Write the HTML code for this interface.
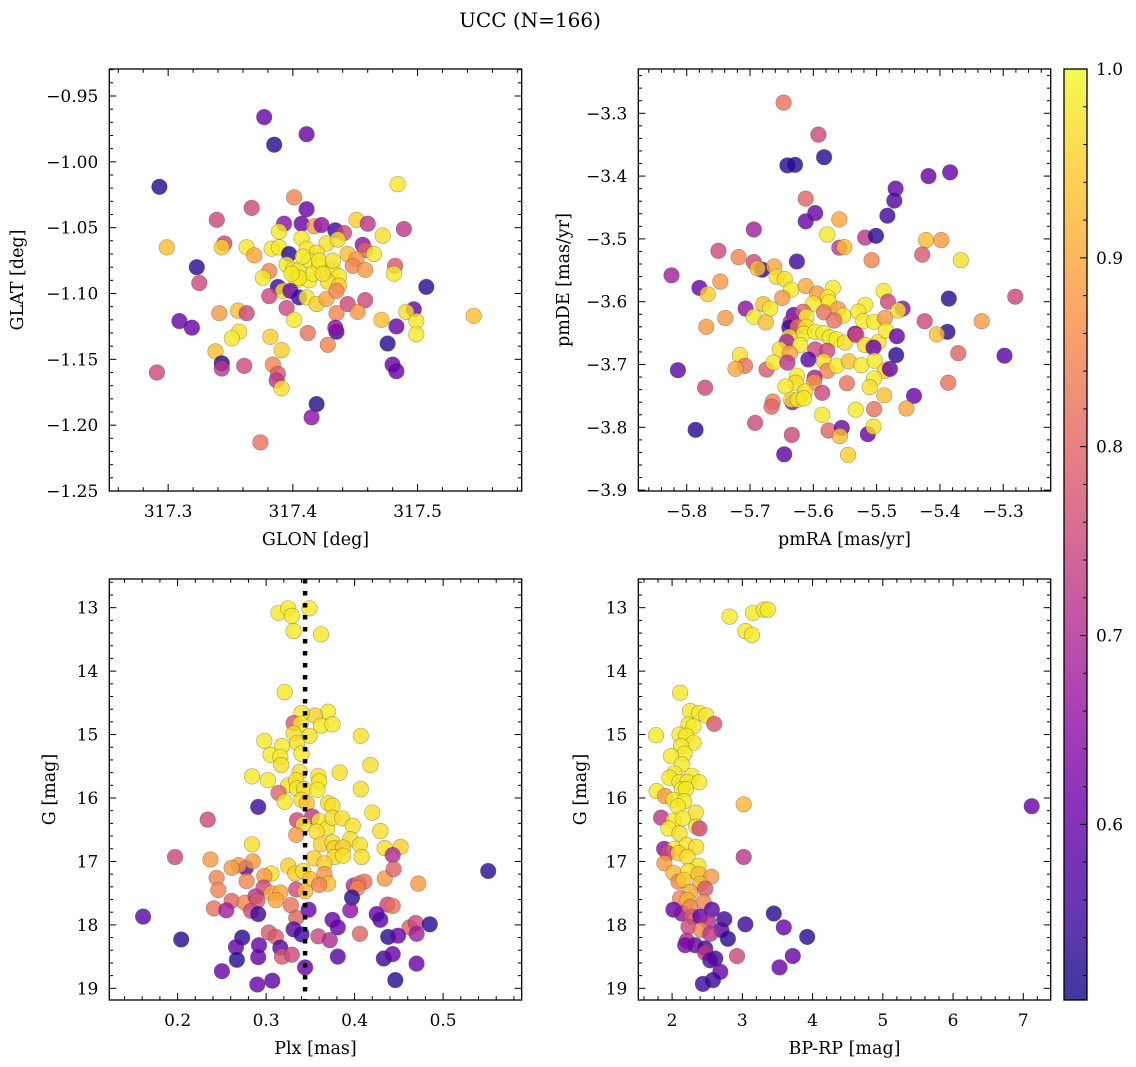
<!DOCTYPE html>
<html><head><meta charset="utf-8"><title>UCC (N=166)</title>
<style>
html,body{margin:0;padding:0;background:#fff;}
svg{display:block;font-family:"DejaVu Serif","Liberation Serif",serif;}
</style></head>
<body>
<svg id="fig" width="1136" height="1067" viewBox="0 0 1136 1067" xmlns="http://www.w3.org/2000/svg">
<text x="530" y="27" font-size="20" text-anchor="middle">UCC (N=166)</text>
</svg>
<script>
// ---- Panel 1: GLON vs GLAT ----
const glon1 = [317.377,317.411,317.385,317.293,317.484,317.401,317.367,317.411,317.339,317.393,317.407,317.417,317.423,317.434,317.451,317.460,317.489,317.472,317.441,317.389,317.407,317.427,317.436,317.345,317.343,317.299,317.363,317.383,317.389,317.397,317.369,317.411,317.419,317.456,317.458,317.465,317.444,317.451,317.323,317.325,317.381,317.376,317.395,317.400,317.405,317.413,317.421,317.432,317.437,317.448,317.458,317.482,317.481,317.403,317.413,317.428,317.437,317.388,317.392,317.398,317.405,317.411,317.419,317.427,317.435,317.381,317.395,317.444,317.458,317.507,317.341,317.356,317.363,317.401,317.435,317.452,317.497,317.491,317.499,317.545,317.471,317.309,317.319,317.357,317.351,317.382,317.412,317.435,317.434,317.483,317.499,317.428,317.476,317.338,317.391,317.343,317.343,317.361,317.384,317.388,317.387,317.391,317.291,317.480,317.483,317.419,317.415,317.374,317.408,317.416,317.421,317.405,317.424,317.432,317.399];
const glat1 = [-0.966,-0.979,-0.987,-1.019,-1.017,-1.027,-1.035,-1.036,-1.044,-1.047,-1.047,-1.049,-1.048,-1.052,-1.044,-1.047,-1.051,-1.056,-1.054,-1.053,-1.058,-1.062,-1.059,-1.062,-1.065,-1.065,-1.065,-1.066,-1.065,-1.070,-1.071,-1.066,-1.069,-1.063,-1.067,-1.070,-1.070,-1.074,-1.080,-1.092,-1.083,-1.088,-1.078,-1.082,-1.082,-1.075,-1.079,-1.082,-1.087,-1.079,-1.082,-1.079,-1.085,-1.090,-1.090,-1.091,-1.094,-1.095,-1.098,-1.098,-1.103,-1.103,-1.108,-1.104,-1.098,-1.102,-1.111,-1.108,-1.105,-1.095,-1.115,-1.113,-1.115,-1.120,-1.115,-1.114,-1.112,-1.114,-1.121,-1.117,-1.120,-1.121,-1.126,-1.129,-1.134,-1.133,-1.130,-1.129,-1.126,-1.125,-1.131,-1.139,-1.138,-1.144,-1.143,-1.153,-1.157,-1.155,-1.154,-1.161,-1.166,-1.172,-1.160,-1.154,-1.159,-1.184,-1.194,-1.213,-1.072,-1.085,-1.075,-1.088,-1.085,-1.075,-1.085];
const prob1 = [0.6,0.6,0.53,0.53,0.98,0.85,0.75,0.6,0.75,0.65,0.6,0.88,0.65,0.55,0.95,0.72,0.72,0.97,0.75,0.98,0.98,0.97,0.97,0.75,0.95,0.93,0.98,0.98,0.98,0.53,0.9,0.98,0.97,0.65,0.8,0.98,0.93,0.88,0.53,0.75,0.85,0.98,0.98,0.98,0.98,0.98,0.98,0.98,0.98,0.85,0.88,0.78,0.98,0.98,0.98,0.97,0.95,0.55,0.97,0.6,0.55,0.98,0.95,0.9,0.85,0.75,0.75,0.75,0.75,0.53,0.88,0.93,0.75,0.98,0.85,0.88,0.6,0.97,0.98,0.93,0.93,0.6,0.6,0.97,0.98,0.95,0.82,0.55,0.65,0.6,0.98,0.85,0.53,0.93,0.95,0.53,0.72,0.75,0.85,0.78,0.72,0.97,0.75,0.6,0.6,0.53,0.65,0.82,0.98,0.98,0.98,0.98,0.97,0.97,0.98];

// ---- Panel 2: pmRA vs pmDE ----
const pmra2 = [-5.647,-5.592,-5.583,-5.641,-5.629,-5.418,-5.384,-5.470,-5.472,-5.612,-5.597,-5.612,-5.483,-5.559,-5.578,-5.694,-5.518,-5.501,-5.422,-5.398,-5.559,-5.551,-5.428,-5.367,-5.508,-5.750,-5.718,-5.626,-5.694,-5.681,-5.688,-5.662,-5.824,-5.780,-5.767,-5.747,-5.658,-5.645,-5.635,-5.649,-5.612,-5.594,-5.569,-5.577,-5.575,-5.600,-5.489,-5.482,-5.518,-5.529,-5.459,-5.466,-5.386,-5.281,-5.769,-5.739,-5.707,-5.679,-5.668,-5.694,-5.675,-5.631,-5.616,-5.611,-5.583,-5.561,-5.553,-5.567,-5.521,-5.504,-5.487,-5.424,-5.334,-5.636,-5.638,-5.625,-5.611,-5.615,-5.597,-5.584,-5.574,-5.563,-5.550,-5.534,-5.532,-5.518,-5.497,-5.485,-5.468,-5.388,-5.405,-5.638,-5.642,-5.621,-5.653,-5.637,-5.597,-5.578,-5.505,-5.469,-5.371,-5.298,-5.716,-5.708,-5.723,-5.674,-5.663,-5.641,-5.608,-5.583,-5.578,-5.563,-5.544,-5.524,-5.503,-5.487,-5.479,-5.814,-5.626,-5.598,-5.599,-5.628,-5.644,-5.547,-5.504,-5.511,-5.387,-5.771,-5.586,-5.613,-5.633,-5.635,-5.624,-5.615,-5.664,-5.666,-5.488,-5.441,-5.533,-5.504,-5.453,-5.586,-5.692,-5.786,-5.634,-5.576,-5.555,-5.558,-5.514,-5.505,-5.646,-5.545];
const pmde2 = [-3.283,-3.334,-3.370,-3.383,-3.382,-3.400,-3.394,-3.420,-3.439,-3.436,-3.459,-3.472,-3.463,-3.469,-3.493,-3.485,-3.498,-3.495,-3.502,-3.502,-3.514,-3.513,-3.525,-3.534,-3.534,-3.519,-3.529,-3.536,-3.537,-3.549,-3.547,-3.544,-3.558,-3.578,-3.588,-3.568,-3.560,-3.564,-3.581,-3.594,-3.575,-3.587,-3.578,-3.593,-3.601,-3.603,-3.583,-3.600,-3.605,-3.616,-3.611,-3.614,-3.595,-3.592,-3.640,-3.626,-3.611,-3.604,-3.611,-3.624,-3.633,-3.621,-3.616,-3.624,-3.617,-3.612,-3.622,-3.630,-3.631,-3.632,-3.626,-3.631,-3.631,-3.633,-3.641,-3.640,-3.640,-3.651,-3.648,-3.650,-3.657,-3.660,-3.665,-3.651,-3.653,-3.669,-3.664,-3.646,-3.655,-3.648,-3.652,-3.656,-3.664,-3.669,-3.676,-3.682,-3.676,-3.678,-3.673,-3.685,-3.682,-3.686,-3.685,-3.702,-3.707,-3.708,-3.697,-3.697,-3.692,-3.695,-3.710,-3.702,-3.695,-3.701,-3.694,-3.710,-3.707,-3.709,-3.718,-3.721,-3.728,-3.729,-3.735,-3.730,-3.722,-3.736,-3.729,-3.737,-3.745,-3.743,-3.760,-3.756,-3.756,-3.754,-3.759,-3.767,-3.749,-3.750,-3.772,-3.771,-3.770,-3.780,-3.793,-3.804,-3.812,-3.805,-3.801,-3.814,-3.811,-3.799,-3.843,-3.844];
const prob2 = [0.82,0.75,0.53,0.53,0.53,0.6,0.6,0.6,0.57,0.8,0.6,0.6,0.55,0.9,0.98,0.68,0.72,0.53,0.93,0.88,0.72,0.93,0.78,0.97,0.85,0.75,0.85,0.55,0.75,0.53,0.93,0.9,0.68,0.6,0.95,0.88,0.97,0.97,0.98,0.88,0.9,0.88,0.98,0.98,0.98,0.98,0.98,0.75,0.98,0.98,0.65,0.97,0.53,0.75,0.88,0.88,0.65,0.93,0.98,0.98,0.93,0.6,0.8,0.98,0.82,0.88,0.98,0.82,0.98,0.98,0.88,0.75,0.88,0.7,0.55,0.82,0.97,0.98,0.98,0.98,0.98,0.98,0.97,0.65,0.75,0.97,0.97,0.98,0.6,0.53,0.93,0.97,0.68,0.98,0.97,0.9,0.75,0.75,0.6,0.53,0.8,0.58,0.97,0.82,0.9,0.78,0.98,0.72,0.58,0.97,0.85,0.98,0.93,0.98,0.98,0.95,0.6,0.58,0.98,0.68,0.88,0.97,0.98,0.82,0.98,0.97,0.82,0.75,0.75,0.97,0.65,0.97,0.98,0.98,0.85,0.8,0.93,0.6,0.98,0.82,0.9,0.98,0.75,0.53,0.75,0.8,0.6,0.93,0.6,0.97,0.58,0.95];

// ---- Panel 3: Plx vs G ----
const plx3 = [0.314,0.325,0.329,0.349,0.331,0.362,0.321,0.370,0.355,0.340,0.362,0.375,0.331,0.339,0.349,0.331,0.335,0.340,0.298,0.318,0.407,0.305,0.316,0.317,0.418,0.338,0.383,0.284,0.302,0.359,0.360,0.325,0.334,0.335,0.343,0.358,0.314,0.321,0.340,0.346,0.407,0.291,0.370,0.375,0.420,0.234,0.352,0.360,0.335,0.342,0.369,0.375,0.386,0.398,0.357,0.334,0.284,0.362,0.375,0.395,0.406,0.429,0.377,0.387,0.377,0.387,0.434,0.452,0.408,0.197,0.237,0.354,0.366,0.443,0.325,0.333,0.342,0.350,0.366,0.370,0.360,0.306,0.298,0.277,0.285,0.269,0.261,0.244,0.278,0.434,0.444,0.472,0.551,0.246,0.297,0.306,0.316,0.311,0.334,0.344,0.399,0.405,0.411,0.403,0.261,0.276,0.288,0.290,0.283,0.328,0.334,0.241,0.255,0.291,0.348,0.397,0.395,0.437,0.443,0.161,0.375,0.381,0.425,0.429,0.462,0.469,0.470,0.485,0.406,0.204,0.273,0.303,0.311,0.331,0.340,0.359,0.372,0.438,0.449,0.266,0.292,0.316,0.318,0.329,0.267,0.291,0.381,0.344,0.433,0.443,0.470,0.250,0.290,0.307,0.446];
const gmag3 = [13.08,13.01,13.13,13.01,13.37,13.42,14.33,14.64,14.70,14.66,14.86,14.84,14.82,14.83,15.02,14.98,15.13,15.30,15.10,15.18,15.02,15.32,15.35,15.48,15.48,15.59,15.60,15.66,15.72,15.65,15.74,15.80,15.72,15.85,15.86,15.87,15.92,16.06,16.03,16.08,15.86,16.14,16.08,16.12,16.23,16.34,16.29,16.36,16.35,16.42,16.48,16.31,16.32,16.44,16.53,16.58,16.73,16.73,16.70,16.65,16.74,16.52,16.79,16.78,16.93,16.91,16.79,16.77,16.93,16.93,16.97,16.95,17.03,16.90,17.07,17.19,17.15,17.28,17.20,17.35,17.37,17.19,17.23,17.10,17.00,17.06,17.10,17.26,17.31,17.27,17.12,17.35,17.15,17.45,17.41,17.50,17.49,17.61,17.44,17.47,17.38,17.35,17.32,17.42,17.62,17.65,17.55,17.62,17.78,17.69,17.89,17.74,17.77,17.83,17.76,17.57,17.77,17.68,17.70,17.87,17.92,18.04,17.83,17.92,18.04,17.97,18.14,17.99,18.14,18.23,18.20,18.12,18.19,18.07,18.15,18.18,18.24,18.19,18.17,18.35,18.32,18.36,18.50,18.47,18.55,18.51,18.50,18.67,18.53,18.46,18.61,18.73,18.94,18.88,18.87];
const prob3 = [0.98,0.98,0.98,0.98,0.98,0.98,0.98,0.98,0.95,0.98,0.98,0.98,0.78,0.98,0.97,0.97,0.97,0.98,0.98,0.98,0.97,0.98,0.98,0.97,0.97,0.97,0.97,0.98,0.98,0.97,0.98,0.97,0.97,0.98,0.97,0.98,0.8,0.98,0.97,0.93,0.97,0.55,0.97,0.97,0.97,0.75,0.72,0.98,0.75,0.97,0.97,0.97,0.97,0.97,0.97,0.88,0.97,0.95,0.97,0.97,0.97,0.97,0.95,0.95,0.97,0.97,0.97,0.95,0.97,0.75,0.88,0.95,0.95,0.7,0.95,0.95,0.97,0.93,0.88,0.93,0.85,0.97,0.88,0.58,0.88,0.88,0.88,0.85,0.85,0.88,0.8,0.88,0.53,0.85,0.75,0.9,0.9,0.9,0.75,0.92,0.7,0.82,0.82,0.85,0.8,0.85,0.72,0.78,0.75,0.82,0.8,0.82,0.68,0.55,0.6,0.53,0.65,0.75,0.82,0.58,0.6,0.6,0.6,0.58,0.8,0.75,0.68,0.53,0.8,0.53,0.53,0.78,0.78,0.58,0.55,0.75,0.7,0.53,0.6,0.6,0.6,0.58,0.78,0.75,0.53,0.6,0.58,0.6,0.55,0.6,0.6,0.6,0.6,0.58,0.53];
const plxLine = [0.344];

// ---- Panel 4: BP-RP vs G ----
const bprp4 = [2.819,3.152,3.305,3.362,3.043,3.138,2.114,2.257,2.386,2.486,2.600,2.233,2.305,1.771,2.105,2.200,2.305,2.129,2.176,1.986,2.138,2.033,1.962,2.281,2.105,2.219,2.386,2.138,2.200,1.781,1.900,2.019,2.171,2.081,3.019,2.338,1.843,2.019,2.152,1.948,2.105,2.343,2.390,1.886,2.029,2.210,2.343,1.933,2.090,2.219,1.890,3.019,2.376,2.019,2.233,2.376,2.557,2.090,2.162,2.400,2.471,2.257,2.114,2.219,2.448,2.019,2.138,2.257,2.567,2.281,2.400,2.743,3.043,3.448,2.519,2.233,2.700,2.414,2.543,3.590,3.924,2.795,2.210,2.329,2.186,2.471,2.471,2.614,2.924,3.719,2.543,2.686,3.529,2.581,2.438,7.12];
const gmag4 = [13.14,13.08,13.03,13.03,13.37,13.43,14.34,14.63,14.66,14.70,14.83,14.84,14.87,15.01,15.00,15.02,15.13,15.18,15.30,15.34,15.47,15.61,15.68,15.65,15.75,15.75,15.75,15.86,15.86,15.89,15.97,16.03,16.05,16.13,16.10,16.23,16.31,16.36,16.32,16.48,16.56,16.45,16.48,16.80,16.80,16.74,16.77,16.87,16.87,16.93,17.03,16.93,17.07,17.18,17.15,17.20,17.24,17.32,17.29,17.35,17.43,17.48,17.58,17.61,17.64,17.76,17.82,17.72,17.76,17.87,17.87,17.91,17.99,17.82,17.95,18.03,18.08,18.08,18.14,18.04,18.19,18.22,18.25,18.32,18.32,18.37,18.44,18.53,18.49,18.49,18.56,18.74,18.67,18.87,18.93,16.13];
const prob4 = [0.98,0.98,0.98,0.98,0.98,0.98,0.98,0.98,0.98,0.98,0.78,0.98,0.98,0.98,0.98,0.98,0.98,0.98,0.98,0.98,0.98,0.98,0.98,0.98,0.98,0.98,0.98,0.98,0.98,0.98,0.88,0.98,0.98,0.98,0.92,0.97,0.72,0.98,0.98,0.98,0.97,0.97,0.75,0.65,0.98,0.97,0.97,0.75,0.95,0.97,0.88,0.72,0.97,0.92,0.97,0.93,0.88,0.85,0.95,0.92,0.78,0.9,0.85,0.92,0.85,0.6,0.65,0.85,0.58,0.78,0.6,0.55,0.55,0.53,0.7,0.75,0.58,0.85,0.72,0.6,0.53,0.53,0.7,0.6,0.62,0.55,0.72,0.55,0.75,0.6,0.58,0.6,0.6,0.55,0.55,0.6];

// ---- Ticks ----
const ticksGlon = [317.3,317.4,317.5];
const ticksGlat = [-0.95,-1.00,-1.05,-1.10,-1.15,-1.20,-1.25];
const ticksPmra = [-5.8,-5.7,-5.6,-5.5,-5.4,-5.3];
const ticksPmde = [-3.3,-3.4,-3.5,-3.6,-3.7,-3.8,-3.9];
const ticksPlx = [0.2,0.3,0.4,0.5];
const ticksG = [13,14,15,16,17,18,19];
const ticksBprp = [2,3,4,5,6,7];
const ticksCbar = [0.6,0.7,0.8,0.9,1.0];
const cbarRange = [0.507,1.0];

const NS = "http://www.w3.org/2000/svg";
const svg = document.getElementById('fig');
const TICKFS = 17, LABFS = 17.5;
function mk(tag, attrs, parent){
  const e = document.createElementNS(NS, tag);
  for (const k in attrs) e.setAttribute(k, attrs[k]);
  (parent||svg).appendChild(e);
  return e;
}
const plasma = [[13,8,135],[65,4,157],[106,0,168],[143,13,164],[177,42,144],[204,71,120],[225,100,98],[242,132,75],[252,166,54],[252,206,37],[240,249,33]];
function cmap(v){
  let t = (v - cbarRange[0])/(cbarRange[1]-cbarRange[0]);
  t = Math.max(0, Math.min(1, t));
  const f = t*10, i = Math.min(9, Math.floor(f)), r = f - i;
  const a = plasma[i], b = plasma[i+1];
  return 'rgb(' + [0,1,2].map(k => Math.round(a[k] + (b[k]-a[k])*r)).join(',') + ')';
}
function fmt(v, d){ const s = Math.abs(v).toFixed(d); return (v < 0 ? '\u2212' : '') + s; }

function panel(cfg){
  const g = mk('g', {});
  
  
  const L = cfg.box[0], R = cfg.box[1], T = cfg.box[2], B = cfg.box[3];
  const sx = v => L + (v - cfg.xd[0])/(cfg.xd[1]-cfg.xd[0])*(R-L);
  const sy = v => T + (v - cfg.yd[0])/(cfg.yd[1]-cfg.yd[0])*(B-T);
  const pts = mk('g', {}, g);
  
  
  for (let i = 0; i < cfg.xs.length; i++){
    const c = mk('circle', {cx: sx(cfg.xs[i]).toFixed(1), cy: sy(cfg.ys[i]).toFixed(1), r: 7.8, fill: cmap(cfg.ps[i]), 'fill-opacity': 0.8, stroke: 'rgba(60,60,60,0.45)', 'stroke-width': 0.6}, pts);
    
    
  }
  if (cfg.vline){
    const ln = mk('line', {x1: sx(cfg.vline[0]), x2: sx(cfg.vline[0]), y1: T, y2: B, stroke: '#000', 'stroke-width': 4.5, 'stroke-dasharray': '4.5,7.5'}, g);
    
    
  }
  const fr = mk('rect', {x: L, y: T, width: R-L, height: B-T, fill: 'none', stroke: '#000', 'stroke-width': 1.3}, g);
  
  
  const xa = mk('g', {}, g);
  
  
  const xmin = Math.min(cfg.xd[0], cfg.xd[1]), xmax = Math.max(cfg.xd[0], cfg.xd[1]);
  for (let k = Math.ceil(xmin/cfg.xminor - 1e-6); k*cfg.xminor <= xmax + 1e-9; k++){
    const v = k*cfg.xminor, x = sx(v);
    const isMaj = cfg.xt.some(t => Math.abs(t - v) < cfg.xminor*0.1);
    const len = isMaj ? 7 : 3.8;
    mk('line', {x1: x, x2: x, y1: B, y2: B-len, stroke: '#000', 'stroke-width': 1}, xa);
    mk('line', {x1: x, x2: x, y1: T, y2: T+len, stroke: '#000', 'stroke-width': 1}, xa);
  }
  cfg.xt.forEach(v => {
    const t = mk('text', {x: sx(v), y: B + 26, 'font-size': TICKFS, 'text-anchor': 'middle'}, xa);
    t.textContent = fmt(v, cfg.xdec);
    
    
  });
  const xl = mk('text', {x: (L+R)/2, y: B + 54, 'font-size': LABFS, 'text-anchor': 'middle'}, xa);
  xl.textContent = cfg.xlabel;
  
  
  const ya = mk('g', {}, g);
  
  
  const ymin = Math.min(cfg.yd[0], cfg.yd[1]), ymax = Math.max(cfg.yd[0], cfg.yd[1]);
  for (let k = Math.ceil(ymin/cfg.yminor - 1e-6); k*cfg.yminor <= ymax + 1e-9; k++){
    const v = k*cfg.yminor, y = sy(v);
    const isMaj = cfg.yt.some(t => Math.abs(t - v) < cfg.yminor*0.1);
    const len = isMaj ? 7 : 3.8;
    mk('line', {x1: L, x2: L+len, y1: y, y2: y, stroke: '#000', 'stroke-width': 1}, ya);
    mk('line', {x1: R, x2: R-len, y1: y, y2: y, stroke: '#000', 'stroke-width': 1}, ya);
  }
  cfg.yt.forEach(v => {
    const t = mk('text', {x: L - 11, y: sy(v) + 6, 'font-size': TICKFS, 'text-anchor': 'end'}, ya);
    t.textContent = fmt(v, cfg.ydec);
    
    
  });
  const yl = mk('text', {x: 0, y: 0, 'font-size': LABFS, 'text-anchor': 'middle', transform: 'translate(' + cfg.ylx + ',' + (T+B)/2 + ') rotate(-90)'}, ya);
  yl.textContent = cfg.ylabel;
  
  
}

panel({name: 'glon-glat-panel', box: [109.3, 521.7, 69, 491], xd: [317.2528, 317.5835], yd: [-0.9295, -1.25],
  xs: glon1, ys: glat1, ps: prob1, xt: ticksGlon, yt: ticksGlat, xminor: 0.02, yminor: 0.01, xdec: 1, ydec: 2,
  xlabel: 'GLON [deg]', ylabel: 'GLAT [deg]', ylx: 23});
panel({name: 'pm-panel', box: [638.3, 1050.7, 69, 491], xd: [-5.8765, -5.225], yd: [-3.2295, -3.9014],
  xs: pmra2, ys: pmde2, ps: prob2, xt: ticksPmra, yt: ticksPmde, xminor: 0.02, yminor: 0.02, xdec: 1, ydec: 1,
  xlabel: 'pmRA [mas/yr]', ylabel: 'pmDE [mas/yr]', ylx: 569});
panel({name: 'plx-g-panel', box: [109.3, 521.7, 579, 1000], xd: [0.1228, 0.5888], yd: [12.548, 19.184],
  xs: plx3, ys: gmag3, ps: prob3, xt: ticksPlx, yt: ticksG, xminor: 0.02, yminor: 0.2, xdec: 1, ydec: 0,
  xlabel: 'Plx [mas]', ylabel: 'G [mag]', ylx: 55, vline: plxLine});
panel({name: 'cmd-panel', box: [638.3, 1050.7, 579, 1000], xd: [1.519, 7.39], yd: [12.548, 19.184],
  xs: bprp4, ys: gmag4, ps: prob4, xt: ticksBprp, yt: ticksG, xminor: 0.2, yminor: 0.2, xdec: 0, ydec: 0,
  xlabel: 'BP-RP [mag]', ylabel: 'G [mag]', ylx: 586});

// ---- Colorbar ----
(function(){
  const L = 1064, R = 1087, T = 69, B = 1000;
  const cb = mk('g', {});
  
  
  const defs = mk('defs', {}, cb);
  const lg = mk('linearGradient', {id: 'cbgrad', x1: 0, y1: 1, x2: 0, y2: 0}, defs);
  for (let i = 0; i <= 20; i++){
    const v = cbarRange[0] + (cbarRange[1]-cbarRange[0])*i/20;
    mk('stop', {offset: i/20, 'stop-color': cmap(v), 'stop-opacity': 0.8}, lg);
  }
  const r = mk('rect', {x: L, y: T, width: R-L, height: B-T, fill: 'url(#cbgrad)', stroke: '#000', 'stroke-width': 1.3}, cb);
  
  
  const sy = v => B - (v - cbarRange[0])/(cbarRange[1]-cbarRange[0])*(B-T);
  for (let k = Math.ceil(cbarRange[0]/0.02 - 1e-6); k*0.02 <= cbarRange[1] + 1e-9; k++){
    const v = k*0.02, y = sy(v);
    const isMaj = ticksCbar.some(t => Math.abs(t - v) < 0.002);
    mk('line', {x1: R, x2: R - (isMaj ? 7 : 3.8), y1: y, y2: y, stroke: '#000', 'stroke-width': 1}, cb);
  }
  ticksCbar.forEach(v => {
    const t = mk('text', {x: R + 9, y: sy(v) + 6, 'font-size': TICKFS}, cb);
    t.textContent = v.toFixed(1);
    
    
  });
})();
</script>
</body></html>
